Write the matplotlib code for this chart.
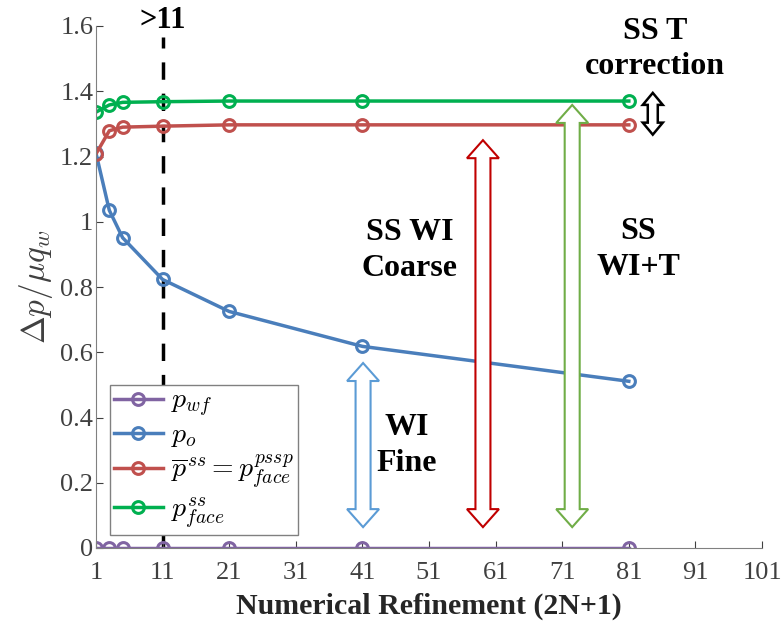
import matplotlib
matplotlib.use("Agg")
import matplotlib.pyplot as plt
from matplotlib.patches import Polygon

plt.rcParams['font.family'] = ['Liberation Serif', 'DejaVu Serif']
plt.rcParams['mathtext.fontset'] = 'cm'

# ---- data ----
refinement = [1, 3, 5, 11, 21, 41, 81]
p_wf = [0, 0, 0, 0, 0, 0, 0]
p_o = [1.21, 1.035, 0.951, 0.823, 0.725, 0.618, 0.511]
p_ss_bar = [1.208, 1.279, 1.29, 1.293, 1.297, 1.297, 1.297]
p_face_ss = [1.336, 1.358, 1.366, 1.368, 1.37, 1.37, 1.37]
series_labels = [r'$p_{wf}$', r'$p_o$', r'$\overline{p}^{ss}=p_{face}^{pssp}$', r'$p_{face}^{ss}$']
colors = ['#8064A2', '#4A7EBB', '#C0504D', '#00B050']
xticks = [1, 11, 21, 31, 41, 51, 61, 71, 81, 91, 101]
yticks = [0, 0.2, 0.4, 0.6, 0.8, 1.0, 1.2, 1.4, 1.6]
ytick_labels = ['0', '0.2', '0.4', '0.6', '0.8', '1', '1.2', '1.4', '1.6']

W, H = 782, 628
L, R, T, B = 96, 762, 26, 548
fig = plt.figure(figsize=(W / 100, H / 100), dpi=100)
ax = fig.add_axes([L / W, (H - B) / H, (R - L) / W, (B - T) / H])

for ys, c, lab in zip([p_wf, p_o, p_ss_bar, p_face_ss], colors, series_labels):
    ax.plot(refinement, ys, '-o', color=c, lw=2.5, ms=8.5, mfc='none', mew=2.2, label=lab, zorder=2)

ax.set_xlim(1, 101)
ax.set_ylim(0, 1.6)
ax.set_xticks(xticks)
ax.set_yticks(yticks)
ax.set_yticklabels(ytick_labels)
ax.tick_params(direction='in', labelsize=19, colors='#404040', length=5)
ax.tick_params(axis='x', pad=10)
ax.tick_params(axis='y', pad=2)
for s in ['top', 'right']:
    ax.spines[s].set_visible(False)
for s in ['left', 'bottom']:
    ax.spines[s].set_color('#808080')

ax.set_xlabel('Numerical Refinement (2N+1)', fontsize=21.5, fontweight='bold', color='#262626', labelpad=6)
ax.set_ylabel(r'$\Delta p/\mu q_w$', fontsize=24, color='#404040', labelpad=4)

# dashed line at x = 11
ax.plot([11, 11], [0, 1.565], ls='--', color='black', lw=2.5, dashes=(5, 4), zorder=1)
ax.text(11, 1.618, '>11', ha='center', va='center', fontsize=22, fontweight='bold', clip_on=False)

leg = ax.legend(loc='lower left', bbox_to_anchor=(0.021, 0.025), borderaxespad=0, fontsize=20,
                frameon=True, fancybox=False, edgecolor='#808080', framealpha=1,
                handlelength=1.75, borderpad=0.15, labelspacing=0.12, handletextpad=0.3)
leg.get_frame().set_linewidth(1.0)

# hollow double arrows (sizes in pixels)
xpp = 100 / (R - L)
ypp = 1.6 / (B - T)

def double_arrow(x, y0, y1, color, shaft=15, head=32, hlen=18, lw=1.5):
    sw = shaft / 2 * xpp
    hw = head / 2 * xpp
    hl = hlen * ypp
    pts = [(x, y1), (x + hw, y1 - hl), (x + sw, y1 - hl), (x + sw, y0 + hl), (x + hw, y0 + hl),
           (x, y0), (x - hw, y0 + hl), (x - sw, y0 + hl), (x - sw, y1 - hl), (x - hw, y1 - hl)]
    ax.add_patch(Polygon(pts, closed=True, fc='white', ec=color, lw=lw, zorder=3, clip_on=False))

double_arrow(41.1, 0.064, 0.567, '#5B9BD5')
double_arrow(59.1, 0.064, 1.25, '#C00000')
double_arrow(72.5, 0.064, 1.358, '#70AD47')
double_arrow(84.6, 1.267, 1.395, 'black', shaft=10, head=20, hlen=12, lw=1.8)

tkw = dict(ha='center', va='center', fontsize=23, fontweight='bold', linespacing=1.3)
ax.text(84.9, 1.53, 'SS T\ncorrection', clip_on=False, **tkw)
ax.text(48.1, 0.912, 'SS WI\nCoarse', **tkw)
ax.text(82.4, 0.915, 'SS\nWI+T', **tkw)
ax.text(47.7, 0.314, 'WI\nFine', **tkw)

fig.savefig('out.png', dpi=100)
